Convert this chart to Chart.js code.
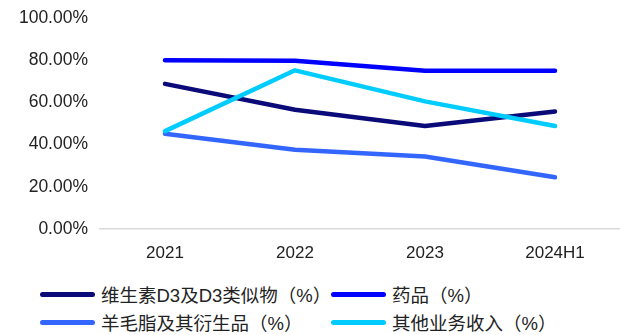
<!DOCTYPE html>
<html>
<head>
<meta charset="utf-8">
<script src="https://cdn.jsdelivr.net/npm/chart.js@4.4.1/dist/chart.umd.min.js"></script>
<style>
  html,body{margin:0;padding:0;background:#fff;}
  #wrap{position:relative;width:620px;height:335px;}
  #c{position:absolute;left:0;top:0;}
  .lg{position:absolute;display:flex;align-items:center;font-family:"Liberation Sans","Noto Sans CJK SC",sans-serif;font-size:18.5px;color:#222;white-space:nowrap;}
  .sw{width:55px;height:5px;border-radius:3px;margin-right:6px;}
</style>
</head>
<body>
<div id="wrap">
  <canvas id="c" width="620" height="270"></canvas>
  <div id="legend"></div>
</div>
<script>
const categories = ["2021", "2022", "2023", "2024H1"];
const seriesNames = ["维生素D3及D3类似物（%）", "药品（%）", "羊毛脂及其衍生品（%）", "其他业务收入（%）"];
const vitaminD3 = [68.8, 56.5, 48.8, 55.7];
const pharma = [80.0, 79.7, 75.0, 75.0];
const lanolin = [45.1, 37.6, 34.4, 24.5];
const otherBiz = [46.4, 75.2, 60.5, 48.8];
const yTicks = [0, 20, 40, 60, 80, 100];
const colors = ["#0a0a78", "#0000ff", "#3366ff", "#00ccff"];

const values = [vitaminD3, pharma, lanolin, otherBiz];
const datasets = values.map((v, i) => ({
  label: seriesNames[i],
  data: v,
  borderColor: colors[i],
  backgroundColor: colors[i],
  borderWidth: 4.5,
  borderCapStyle: "round",
  borderJoinStyle: "round",
  pointRadius: 0,
  tension: 0,
  fill: false,
  order: 4 - i
}));

new Chart(document.getElementById("c"), {
  type: "line",
  data: { labels: categories, datasets },
  options: {
    responsive: false,
    animation: false,
    layout: { padding: { top: 18, right: 0, bottom: 0, left: 0 } },
    plugins: { legend: { display: false }, tooltip: { enabled: false } },
    scales: {
      x: {
        offset: true,
        grid: { display: false, drawTicks: false },
        border: { display: true, color: "#d9d9d9", width: 1.5 },
        ticks: { color: "#222", padding: 14, font: { family: "'Liberation Sans', Arial", size: 17 } },
        afterFit: s => { s.height = 41; s.paddingLeft = 0; s.paddingRight = 0; }
      },
      y: {
        min: 0, max: 100,
        afterBuildTicks: s => { s.ticks = yTicks.map(v => ({ value: v })); },
        grid: { display: false, drawTicks: false },
        border: { display: false },
        ticks: {
          color: "#222", padding: 12,
          font: { family: "'Liberation Sans', Arial", size: 17.5 },
          callback: v => v.toFixed(2) + "%"
        },
        afterFit: s => { s.width = 100; s.paddingTop = 0; s.paddingBottom = 0; }
      }
    }
  }
});

const pos = [[40, 294], [331, 294], [40, 322], [331, 322]];
const lg = document.getElementById("legend");
seriesNames.forEach((n, i) => {
  const d = document.createElement("div");
  d.className = "lg";
  d.style.left = pos[i][0] + "px";
  d.style.top = (pos[i][1] - 12) + "px";
  d.style.height = "24px";
  d.innerHTML = '<span class="sw" style="background:' + colors[i] + '"></span><span>' + n + '</span>';
  lg.appendChild(d);
});
</script>
</body>
</html>
